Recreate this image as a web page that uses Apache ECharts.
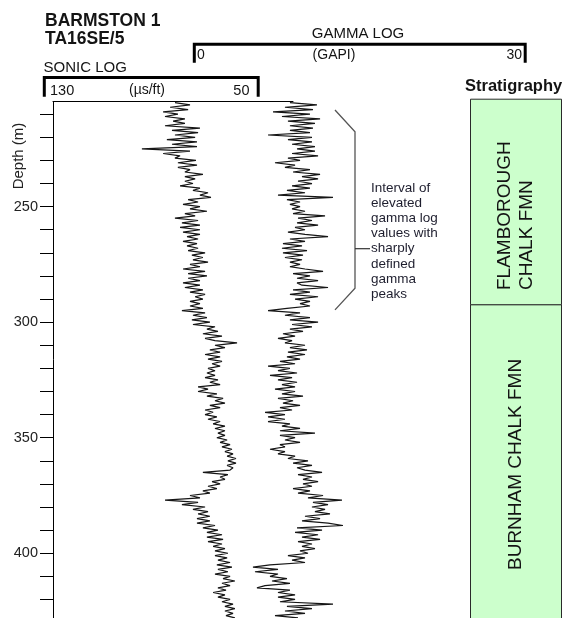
<!DOCTYPE html>
<html>
<head>
<meta charset="utf-8">
<script src="https://cdn.jsdelivr.net/npm/echarts@6/dist/echarts.min.js"></script>
<style>
  html, body { margin: 0; padding: 0; background: #ffffff; }
  #chart { width: 566px; height: 618px; }
</style>
</head>
<body>
<div id="chart"></div>
<script>
// ---- Well log data: BARMSTON 1 (TA16SE/5) ----
// Logs are sampled every metre starting at DEPTH_START.
const DEPTH_START = 205;
const DEPTH_STEP = 1;

// Sonic log, interval transit time (µs/ft)
const SONIC = [
  80.9, 75.3, 82.7, 76.0, 85.3, 79.8, 84.6, 77.2, 81.6, 77.2,
  84.6, 71.6, 82.0, 72.3, 80.9, 73.4, 83.9, 72.7, 82.0, 72.7,
  93.2, 75.3, 85.3, 79.0, 80.9, 73.1, 79.8, 72.7, 79.8, 75.3,
  77.2, 70.5, 77.2, 73.4, 77.2, 74.2, 79.0, 71.6, 74.2, 68.6,
  71.6, 67.5, 76.0, 72.3, 77.9, 71.6, 75.3, 69.0, 77.2, 73.4,
  80.9, 72.3, 78.3, 71.6, 79.0, 71.6, 77.9, 71.6, 76.4, 72.3,
  77.9, 72.7, 76.4, 72.3, 76.0, 69.7, 74.6, 70.5, 74.2, 68.6,
  75.3, 71.6, 77.9, 69.7, 76.0, 69.0, 76.0, 71.6, 77.9, 71.6,
  77.2, 70.5, 75.3, 69.7, 73.4, 70.5, 75.3, 71.6, 75.3, 70.5,
  78.3, 69.7, 74.2, 69.0, 74.6, 67.9, 74.2, 66.0, 69.0, 64.9,
  70.5, 63.4, 69.7, 66.0, 57.8, 66.0, 62.3, 67.9, 64.1, 69.7,
  64.1, 68.6, 63.4, 67.1, 64.1, 68.6, 66.0, 69.0, 66.0, 69.7,
  64.9, 67.9, 64.1, 72.3, 68.6, 72.3, 65.3, 69.0, 63.0, 66.0,
  62.3, 67.9, 64.1, 69.7, 66.7, 69.7, 65.3, 68.6, 64.1, 66.7,
  62.3, 66.0, 62.3, 64.9, 62.3, 65.3, 61.5, 64.1, 60.4, 63.4,
  59.7, 62.3, 59.3, 61.5, 58.2, 61.2, 58.2, 61.5, 59.3, 60.4,
  70.5, 61.2, 64.1, 62.3, 67.1, 64.1, 68.6, 65.3, 70.5, 67.9,
  75.3, 71.6, 84.6, 72.3, 78.3, 69.7, 74.2, 68.6, 72.3, 67.9,
  72.7, 67.9, 72.7, 66.0, 70.5, 64.9, 69.0, 63.4, 69.0, 63.0,
  68.6, 63.4, 66.7, 62.3, 66.0, 61.2, 66.0, 61.5, 64.9, 60.4,
  65.3, 59.7, 64.9, 61.2, 66.0, 60.4, 63.0, 58.6, 63.4, 60.4,
  64.9, 61.9, 66.7, 62.3, 64.9, 60.4, 63.4, 59.3, 62.3, 58.6,
  62.3, 59.3, 61.9, 58.6
];

// Gamma log (GAPI)
const GAMMA = [
  8.76, 11.20, 8.31, 10.84, 7.23, 10.57, 8.04, 11.48, 8.58, 11.02,
  8.76, 10.84, 8.76, 10.57, 6.78, 10.75, 8.58, 10.75, 8.95, 11.02,
  9.40, 11.02, 8.95, 11.30, 8.58, 9.67, 7.41, 9.22, 8.31, 10.57,
  9.04, 11.48, 9.85, 11.30, 9.49, 10.75, 8.95, 10.57, 8.49, 10.12,
  7.68, 12.65, 8.49, 9.67, 8.76, 9.67, 8.95, 10.12, 9.04, 11.93,
  9.49, 10.75, 9.40, 11.30, 9.22, 10.12, 8.58, 10.12, 12.20, 8.76,
  10.12, 8.13, 9.85, 8.04, 10.30, 8.13, 9.94, 8.31, 9.85, 8.76,
  9.67, 8.76, 10.12, 11.75, 9.04, 10.57, 9.40, 11.30, 9.40, 9.85,
  12.20, 9.04, 10.57, 8.76, 11.30, 9.22, 10.57, 9.67, 10.57, 8.49,
  6.78, 9.67, 8.31, 10.57, 8.76, 11.30, 8.95, 10.75, 8.76, 9.94,
  8.13, 9.22, 7.68, 8.95, 8.31, 10.12, 8.76, 10.30, 8.58, 10.12,
  8.49, 9.67, 7.86, 9.22, 6.78, 8.76, 7.68, 9.40, 6.96, 8.95,
  7.68, 9.40, 8.04, 9.22, 7.41, 9.22, 8.04, 9.94, 7.68, 9.04,
  8.13, 9.67, 7.86, 8.95, 6.51, 8.31, 6.78, 8.31, 6.78, 8.76,
  8.04, 9.67, 7.86, 11.02, 7.86, 9.22, 8.31, 9.67, 7.86, 8.31,
  6.96, 8.31, 7.68, 9.22, 8.58, 10.39, 9.04, 10.75, 9.40, 10.12,
  11.66, 9.49, 10.75, 9.94, 11.30, 9.94, 10.75, 9.04, 10.57, 9.49,
  11.75, 10.39, 13.46, 10.84, 12.20, 10.75, 11.93, 11.02, 12.38, 10.12,
  11.48, 9.85, 12.20, 13.55, 9.40, 11.66, 9.22, 11.30, 9.85, 11.48,
  9.49, 10.75, 9.85, 11.02, 9.67, 10.39, 8.58, 10.12, 8.95, 10.12,
  6.96, 5.42, 7.68, 5.60, 7.68, 6.96, 8.49, 7.14, 8.76, 6.51,
  5.78, 8.76, 7.68, 9.22, 7.68, 9.22, 7.86, 12.65, 8.49, 10.75,
  8.31, 10.12, 7.41, 9.49
];

// Depth axis ticks and labels (m)
const DEPTH_LABELS = [250, 300, 350, 400];
const DEPTH_TICKS = [210, 220, 230, 240, 250, 260, 270, 280, 290, 300, 310,
  320, 330, 340, 350, 360, 370, 380, 390, 400, 410, 420];

// Log scales
const SONIC_SCALE = [130, 50];
const GAMMA_SCALE = [0, 30];

// Stratigraphic units (top and base depth, m)
const FORMATIONS = ['FLAMBOROUGH\nCHALK FMN', 'BURNHAM CHALK FMN'];
const FORMATION_TOP = [203.5, 292.5];
const FORMATION_BASE = [292.5, 440];

// Annotated interval (m)
const NOTE_INTERVAL = [208.2, 294.7];
const NOTE_TEXT = 'Interval of\nelevated\ngamma log\nvalues with\nsharply\ndefined\ngamma\npeaks';

// ---- Layout ----
const FONT = '"Liberation Sans", Arial, Helvetica, sans-serif';
const INK = '#141414';
const CHART_H = 618;
const PLOT_TOP = 101.5;
const PX_PER_M = 2.3107;
const PLOT_H = CHART_H - PLOT_TOP;          // tracks run to the bottom edge
const DEPTH_MIN = 204.5;
const DEPTH_MAX = DEPTH_MIN + PLOT_H / PX_PER_M;
const DEPTH_TRACK = { left: 53, width: 240 };
const SONIC_TRACK = { left: 43, width: 215 };
const GAMMA_TRACK = { left: 193, width: 332 };
const STRAT_TRACK = { left: 470.5, width: 91 };
const STRAT_LABEL_Y = [290, 570];

function depthToY(d) { return PLOT_TOP + (d - DEPTH_MIN) * PX_PER_M; }

const sonicData = SONIC.map((v, i) => [v, DEPTH_START + i * DEPTH_STEP]);
const gammaData = GAMMA.map((v, i) => [v, DEPTH_START + i * DEPTH_STEP]);

function hiddenY(gridIndex) {
  return { gridIndex, type: 'value', inverse: true, min: DEPTH_MIN, max: DEPTH_MAX, show: false };
}

function text(x, y, str, size, opts) {
  opts = opts || {};
  return {
    type: 'text', x, y, silent: true,
    style: {
      text: str, fontFamily: FONT, fontSize: size,
      fontWeight: opts.bold ? 'bold' : 'normal',
      fill: opts.color || INK,
      align: opts.align || 'left', verticalAlign: 'middle',
      lineHeight: opts.lineHeight
    }
  };
}

// Scale bracket drawn above a log track
function bracket(track, yTop, yBottom) {
  const x0 = track.left + 1.3, x1 = track.left + track.width + 0.2;
  return {
    type: 'polyline', silent: true,
    shape: { points: [[x0, yBottom], [x0, yTop], [x1, yTop], [x1, yBottom]] },
    style: { stroke: '#000', lineWidth: 3, fill: null, lineJoin: 'miter', lineCap: 'butt' }
  };
}

const noteTop = depthToY(NOTE_INTERVAL[0]);
const noteBot = depthToY(NOTE_INTERVAL[1]);
const noteLine1 = 188.3, noteLH = 15.1;

const option = {
  animation: false,
  backgroundColor: '#ffffff',
  grid: [
    { left: DEPTH_TRACK.left, width: DEPTH_TRACK.width, top: PLOT_TOP, height: PLOT_H },
    { left: SONIC_TRACK.left, width: SONIC_TRACK.width, top: PLOT_TOP, height: PLOT_H },
    { left: GAMMA_TRACK.left, width: GAMMA_TRACK.width, top: PLOT_TOP, height: PLOT_H },
    { left: STRAT_TRACK.left, width: STRAT_TRACK.width, top: PLOT_TOP, height: PLOT_H }
  ],
  xAxis: [
    {
      gridIndex: 0, type: 'value', position: 'top', min: 0, max: 1,
      axisLine: { show: true, onZero: false, lineStyle: { color: '#000', width: 1 } },
      axisTick: { show: false }, axisLabel: { show: false }, splitLine: { show: false }
    },
    { gridIndex: 1, type: 'value', min: SONIC_SCALE[1], max: SONIC_SCALE[0], inverse: true, show: false },
    { gridIndex: 2, type: 'value', min: GAMMA_SCALE[0], max: GAMMA_SCALE[1], show: false },
    { gridIndex: 3, type: 'value', min: 0, max: 1, show: false }
  ],
  yAxis: [
    {
      gridIndex: 0, type: 'value', inverse: true, min: DEPTH_MIN, max: DEPTH_MAX,
      axisLine: { show: true, onZero: false, lineStyle: { color: '#000', width: 1 } },
      axisTick: { show: true, inside: false, length: 13, customValues: DEPTH_TICKS,
                  lineStyle: { color: '#000', width: 1 } },
      axisLabel: { show: true, customValues: DEPTH_LABELS, margin: 15,
                   fontFamily: FONT, fontSize: 14.5, color: '#222' },
      splitLine: { show: false }
    },
    hiddenY(1), hiddenY(2), hiddenY(3)
  ],
  series: [
    {
      name: 'Sonic', type: 'line', xAxisIndex: 1, yAxisIndex: 1, data: sonicData,
      symbol: 'none', showSymbol: false, silent: true,
      lineStyle: { color: '#161616', width: 1.2 }
    },
    {
      name: 'Gamma', type: 'line', xAxisIndex: 2, yAxisIndex: 2, data: gammaData,
      symbol: 'none', showSymbol: false, silent: true,
      lineStyle: { color: '#161616', width: 1.2 }
    },
    {
      name: 'Stratigraphy', type: 'custom', xAxisIndex: 3, yAxisIndex: 3, clip: false, silent: true,
      data: FORMATION_TOP.map((t, i) => [t, FORMATION_BASE[i]]),
      encode: { y: [0, 1] },
      renderItem: function (params, api) {
        const p0 = api.coord([0, api.value(0)]);
        const p1 = api.coord([1, api.value(1)]);
        const i = params.dataIndex;
        return {
          type: 'group',
          children: [
            {
              type: 'rect',
              shape: { x: p0[0], y: p0[1], width: p1[0] - p0[0], height: p1[1] - p0[1] },
              style: { fill: '#ccffcc', stroke: '#2a2a2a', lineWidth: 1 }
            },
            {
              type: 'text', x: (p0[0] + p1[0]) / 2 - 0.5, y: STRAT_LABEL_Y[i], rotation: Math.PI / 2,
              style: {
                text: FORMATIONS[i], fontFamily: FONT, fontSize: 19, fill: INK,
                align: 'left', verticalAlign: 'middle', lineHeight: 21.7
              }
            }
          ]
        };
      }
    }
  ],
  graphic: [
    text(45, 20.9, 'BARMSTON 1', 17.5, { bold: true }),
    text(45, 38.7, 'TA16SE/5', 17.5, { bold: true }),
    text(43.5, 68.3, 'SONIC LOG', 15),
    bracket(SONIC_TRACK, 77.5, 96.7),
    text(50, 90.5, '130', 14.5),
    text(147, 90.5, '(µs/ft)', 14, { align: 'center' }),
    text(249.5, 90.5, '50', 14.5, { align: 'right' }),
    text(358, 34.2, 'GAMMA LOG', 15, { align: 'center' }),
    bracket(GAMMA_TRACK, 44.3, 62.7),
    text(197, 54.8, '0', 14),
    text(334, 54.8, '(GAPI)', 14, { align: 'center' }),
    text(522, 54.8, '30', 14, { align: 'right' }),
    text(465, 86, 'Stratigraphy', 16.5, { bold: true }),
    {
      type: 'text', x: 19.3, y: 156, rotation: Math.PI / 2, silent: true,
      style: { text: 'Depth (m)', fontFamily: FONT, fontSize: 15, fill: '#222',
               align: 'center', verticalAlign: 'middle' }
    },
    // brace around the annotated interval
    {
      type: 'polyline', silent: true,
      shape: { points: [[335, noteTop], [355, noteTop + 21.7], [355, noteBot - 21.7], [335, noteBot]] },
      style: { stroke: '#555', lineWidth: 1.3, fill: null }
    },
    {
      type: 'line', silent: true,
      shape: { x1: 355, y1: noteLine1 + 4 * noteLH, x2: 370, y2: noteLine1 + 4 * noteLH },
      style: { stroke: '#333', lineWidth: 1.2 }
    },
    text(371, noteLine1 + 3.5 * noteLH, NOTE_TEXT, 13.5, { lineHeight: noteLH, color: '#1e1e2e' })
  ]
};

const chart = echarts.init(document.getElementById('chart'), null, { renderer: 'canvas' });
chart.setOption(option);
</script>
</body>
</html>
